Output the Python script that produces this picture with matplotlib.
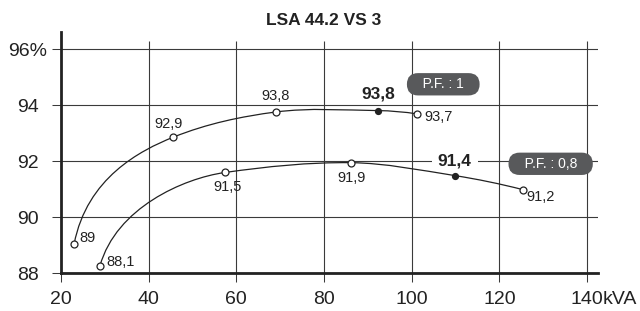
import numpy as np
import matplotlib
matplotlib.use("Agg")
import matplotlib.pyplot as plt
from matplotlib.path import Path
from matplotlib.patches import PathPatch

plt.rcParams['font.family'] = ['Liberation Sans', 'DejaVu Sans']

# efficiency readings (kVA, %)
pf1_kva = [23.0, 45.6, 69.0, 92.3, 101.3]
pf1_eff = [89.04, 92.85, 93.75, 93.80, 93.68]
pf1_labels = ['89', '92,9', '93,8', '93,8', '93,7']
pf1_rated = 3

pf08_kva = [28.9, 57.4, 86.2, 109.8, 125.3]
pf08_eff = [88.26, 91.59, 91.94, 91.48, 90.98]
pf08_labels = ['88,1', '91,5', '91,9', '91,4', '91,2']
pf08_rated = 3

x_ticks = [20, 40, 60, 80, 100, 120, 140]
x_ticklabels = ['20', '40', '60', '80', '100', '120', '140']
y_ticks = [88, 90, 92, 94, 96]
y_ticklabels = ['88', '90', '92', '94', '96%']

title = 'LSA 44.2 VS 3'
tags = ['P.F. : 1', 'P.F. : 0,8']

# label offsets in pixels (dx, dy, ha)
pf1_offsets = [(5, 6, 'left'), (-5, 13, 'center'), (0, 16, 'center'),
               (0, 17, 'center'), (7, -3, 'left')]
pf08_offsets = [(6, 4, 'left'), (3, -15, 'center'), (0, -15, 'center'),
                (0, 15, 'center'), (4, -7, 'left')]

INK = '#222222'
GRID = '#3a3a3a'
TAG = '#58595b'


def curve_path(xs, ys, elbow=(0.13, 0.62)):
    """ Smooth y(x) curve through the points with a tight knee at the start """
    x = np.asarray(xs, float)
    y = np.asarray(ys, float)
    n = len(x)
    h = np.diff(x)
    delta = np.diff(y) / h
    d = np.zeros(n)
    d[1:-1] = (y[2:] - y[:-2]) / (x[2:] - x[:-2])
    # first inner point: weighted harmonic mean keeps the knee tight
    w1, w2 = 2 * h[1] + h[0], h[1] + 2 * h[0]
    d[1] = (w1 + w2) / (w1 / delta[0] + w2 / delta[1])
    d[-1] = 2 * delta[-1] - d[-2]
    verts = [(x[0], y[0])]
    codes = [Path.MOVETO]
    for i in range(n - 1):
        if i == 0:
            c1 = (x[0] + elbow[0] * h[0], y[0] + elbow[1] * (y[1] - y[0]))
        else:
            c1 = (x[i] + h[i] / 3, y[i] + d[i] * h[i] / 3)
        c2 = (x[i + 1] - h[i] / 3, y[i + 1] - d[i + 1] * h[i] / 3)
        verts += [c1, c2, (x[i + 1], y[i + 1])]
        codes += [Path.CURVE4] * 3
    return Path(verts, codes)


fig = plt.figure(figsize=(6.4, 3.11), dpi=100)
ax = fig.add_axes([61 / 640, 38 / 311, 537 / 640, 240.8 / 311])
ax.set_xlim(20, 142.5)
ax.set_ylim(88, 96.6)

for s in ['top', 'right']:
    ax.spines[s].set_visible(False)
for s in ['left', 'bottom']:
    ax.spines[s].set_linewidth(2.0)
    ax.spines[s].set_color(INK)
    ax.spines[s].set_zorder(6)

ax.set_xticks(x_ticks)
ax.set_xticklabels(x_ticklabels)
ax.set_yticks(y_ticks)
ax.set_yticklabels(y_ticklabels)
ax.tick_params(axis='both', direction='out', length=6.5, width=0.75,
               color=GRID, labelsize=14, labelcolor=INK)
ax.tick_params(axis='x', pad=6.5)
ax.tick_params(axis='y', pad=17.3)
for lbl in ax.get_yticklabels():
    lbl.set_horizontalalignment('center')

ax.yaxis.grid(True, color=GRID, lw=0.8)
ax.set_axisbelow(True)
ax.vlines(x_ticks[1:], 88, 96.3, color=GRID, lw=0.8, zorder=1)

ax.annotate('kVA', xy=(140, 0), xycoords=ax.get_xaxis_transform(),
            xytext=(15.5, -(9 + 9)), textcoords='offset pixels',
            ha='left', va='top', fontsize=14, color=INK)

fig.text(324 / 640, 1 - 25 / 311, title, ha='center', va='baseline',
         fontsize=12.5, fontweight='bold', color=INK)

series = [(pf1_kva, pf1_eff, pf1_labels, pf1_offsets, pf1_rated, False),
          (pf08_kva, pf08_eff, pf08_labels, pf08_offsets, pf08_rated, True)]
for xs, ys, labels, offsets, rated, boxed in series:
    ax.add_patch(PathPatch(curve_path(xs, ys), fc='none', ec=INK, lw=0.9, zorder=3))
    others = [i for i in range(len(xs)) if i != rated]
    ax.plot([xs[i] for i in others], [ys[i] for i in others], 'o', ls='none',
            ms=5, mfc='white', mec=INK, mew=0.9, zorder=4)
    ax.plot(xs[rated], ys[rated], 'o', ms=4.2, color=INK, zorder=4)
    for i, (lab, (dx, dy, ha)) in enumerate(zip(labels, offsets)):
        if i == rated:
            box = dict(boxstyle='square,pad=0.35', fc='white', ec='none') if boxed else None
            ax.annotate(lab, (xs[i], ys[i]), xytext=(dx, dy), textcoords='offset pixels',
                        ha=ha, va='center', fontsize=12.5, fontweight='bold', color=INK,
                        zorder=2, bbox=box)
        else:
            ax.annotate(lab, (xs[i], ys[i]), xytext=(dx, dy), textcoords='offset pixels',
                        ha=ha, va='center', fontsize=10.5, color=INK, zorder=5)

# power factor tags
for tag, (tx, ty) in zip(tags, [(107.2, 94.74), (131.7, 91.9)]):
    ax.text(tx, ty, '   ' + tag + '   ', ha='center', va='center', fontsize=10,
            color='white', zorder=6,
            bbox=dict(boxstyle='round,pad=0.3,rounding_size=0.8', fc=TAG, ec='none'))

fig.savefig('out.png', dpi=100)
